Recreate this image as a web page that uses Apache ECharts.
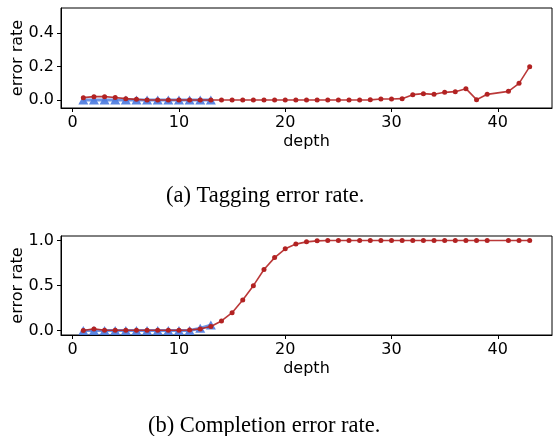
<!DOCTYPE html>
<html>
<head>
<meta charset="utf-8">
<script src="https://cdn.jsdelivr.net/npm/echarts@6/dist/echarts.min.js"></script>
<style>
html,body{margin:0;padding:0;background:#fff;}
#c{width:553px;height:436px;}
</style>
</head>
<body>
<div id="c"></div>
<script>
// Depths
const depthsRed = [1,2,3,4,5,6,7,8,9,10,11,12,13,14,15,16,17,18,19,20,21,22,23,24,25,26,27,28,29,30,31,32,33,34,35,36,37,38,39,41,42,43];
const depthsBlue = [1,2,3,4,5,6,7,8,9,10,11,12,13];

// (a) Tagging error rate
const taggingRed = [0.014,0.02,0.02,0.015,0.008,0.004,0,0,0,0,0,0,0,0,0,0,0,0,0,0,0,0,0,0,0,0,0,0.001,0.006,0.006,0.008,0.032,0.038,0.034,0.046,0.05,0.068,0.002,0.034,0.052,0.1,0.2];
const taggingBlue = [0,0,0,0,0,0,0,0,0,0,0,0,0];

// (b) Completion error rate
const completionRed = [0,0.018,0.002,0.003,0.003,0.003,0.003,0.003,0.003,0.003,0.006,0.018,0.045,0.106,0.198,0.34,0.498,0.678,0.81,0.908,0.96,0.985,0.996,1,1,1,1,1,1,1,1,1,1,1,1,1,1,1,1,1,1,1];
const completionBlue = [0,0,0,0,0,0,0,0,0,0,0,0.025,0.06];

// Ticks
const xTicks = [0,10,20,30,40];
const yTicksA = [0,0.2,0.4];
const yTicksB = [0,0.5,1.0];

const captions = ['(a) Tagging error rate.', '(b) Completion error rate.'];

const pairs = (xs, ys) => xs.map((x, i) => [x, ys[i]]);

const RED = '#b22222';
const BLUE = '#4a7ae0';
const sans = "'DejaVu Sans', sans-serif";
const serif = "'Liberation Serif', serif";
const FS = 16;

function xAxis(gi) {
  return {
    type: 'value', gridIndex: gi, min: -1.1, max: 45.1,
    name: 'depth', nameLocation: 'middle', nameGap: 26, nameMoveOverlap: false,
    nameTextStyle: {fontFamily: sans, fontSize: FS, color: '#000'},
    axisLine: {show: true, onZero: false, lineStyle: {color: '#000', width: 1}},
    axisTick: {show: true, length: 4, lineStyle: {color: '#000'}, customValues: xTicks},
    axisLabel: {fontFamily: sans, fontSize: FS, color: '#000', margin: 7, customValues: xTicks},
    splitLine: {show: false}
  };
}
function yAxis(gi, min, max, ticks) {
  return {
    type: 'value', gridIndex: gi, min: min, max: max,
    name: 'error rate', nameLocation: 'middle', nameGap: 35, nameRotate: 90, nameMoveOverlap: false,
    nameTextStyle: {fontFamily: sans, fontSize: FS, color: '#000'},
    axisLine: {show: true, onZero: false, lineStyle: {color: '#000', width: 1}},
    axisTick: {show: true, length: 4, lineStyle: {color: '#000'}, customValues: ticks},
    axisLabel: {fontFamily: sans, fontSize: FS, color: '#000', margin: 7, customValues: ticks,
      formatter: v => v.toFixed(1)},
    splitLine: {show: false}
  };
}
function blueSeries(gi, ys) {
  return {
    type: 'line', xAxisIndex: gi, yAxisIndex: gi, data: pairs(depthsBlue, ys),
    symbol: 'triangle', symbolSize: [10, 9], showAllSymbol: true,
    lineStyle: {color: BLUE, width: 3, opacity: 0.8},
    itemStyle: {color: BLUE, opacity: 0.9}, z: 2, silent: true, animation: false
  };
}
function redSeries(gi, ys) {
  return {
    type: 'line', xAxisIndex: gi, yAxisIndex: gi, data: pairs(depthsRed, ys),
    symbol: 'circle', symbolSize: 5, showAllSymbol: true,
    lineStyle: {color: RED, width: 1.6, opacity: 0.9},
    itemStyle: {color: RED}, z: 3, silent: true, animation: false
  };
}

const chart = echarts.init(document.getElementById('c'), null, {renderer: 'canvas'});
chart.setOption({
  backgroundColor: '#fff',
  animation: false,
  title: [
    {text: captions[0], left: 166, top: 185, padding: 0, textStyle: {fontFamily: serif, fontSize: 22.5, fontWeight: 'normal', color: '#000'}},
    {text: captions[1], left: 148, top: 415, padding: 0, textStyle: {fontFamily: serif, fontSize: 22.5, fontWeight: 'normal', color: '#000'}}
  ],
  grid: [
    {left: 61, top: 8, width: 491, height: 100, outerBoundsMode: 'none', containLabel: false, show: true, borderColor: '#000', borderWidth: 1, backgroundColor: 'transparent'},
    {left: 61, top: 236, width: 491, height: 99, outerBoundsMode: 'none', containLabel: false, show: true, borderColor: '#000', borderWidth: 1, backgroundColor: 'transparent'}
  ],
  xAxis: [xAxis(0), xAxis(1)],
  yAxis: [yAxis(0, -0.048, 0.552, yTicksA), yAxis(1, -0.05, 1.05, yTicksB)],
  series: [
    blueSeries(0, taggingBlue), redSeries(0, taggingRed),
    blueSeries(1, completionBlue), redSeries(1, completionRed)
  ]
});
</script>
</body>
</html>
